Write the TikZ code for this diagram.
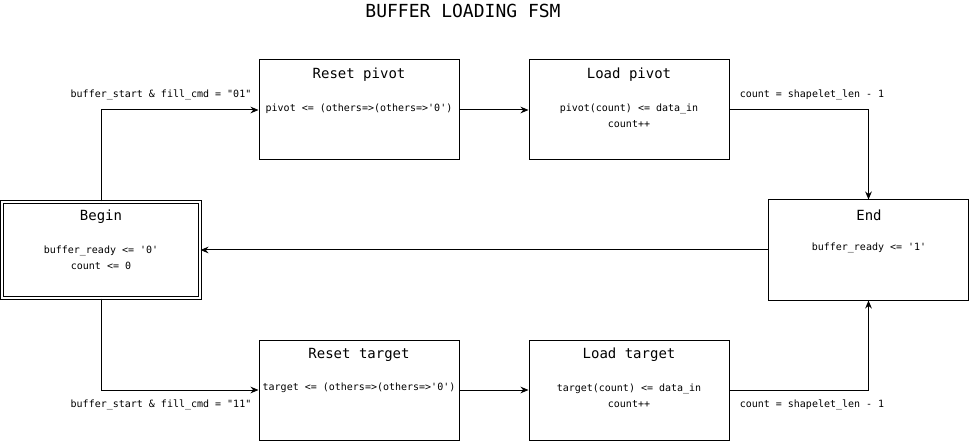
\documentclass[tikz,border=0pt]{standalone}
\usepackage{fontspec}
\setmonofont{DejaVu Sans Mono}
\usetikzlibrary{arrows.meta}

\begin{document}
\begin{tikzpicture}[->,>={Stealth[length=6pt,width=5pt]},x=0.75pt,y=-0.75pt,line width=0.75pt,
    statebox/.style={draw,rectangle,minimum width=150pt,minimum height=75pt,inner sep=0pt},
    statename/.style={font=\ttfamily\fontsize{10.5}{12}\selectfont},
    action/.style={font=\ttfamily\fontsize{7.5}{12}\selectfont,align=center},
    guard/.style={font=\ttfamily\fontsize{7.5}{12}\selectfont}]
                \useasboundingbox (0,0) rectangle (969,441);
                \node[font=\ttfamily\fontsize{13.5}{16}\selectfont] (title) at (463,11) {BUFFER LOADING FSM};

                % states
                \node[statebox, double, double distance=1.5pt, minimum width=148.5pt, minimum height=72pt] (begin) at (101,250) {};
                \node[statebox] (rp) at (359,110) {};
                \node[statebox] (lp) at (629,110) {};
                \node[statebox] (end) at (868.5,250) {};
                \node[statebox] (rt) at (359,390) {};
                \node[statebox] (lt) at (629,390) {};

                % state texts
                \node[statename] (begin-n) at (101,217) {Begin};
                \node[action] (begin-a) at (101,258) {buffer\_ready <= '0'\\count <= 0};
                \node[statename] (rp-n) at (359,75) {Reset pivot};
                \node[action] (rp-a) at (359,109) {pivot <= (others=>(others=>'0')};
                \node[statename] (lp-n) at (629,75) {Load pivot};
                \node[action] (lp-a) at (629,116) {pivot(count) <= data\_in\\count++};
                \node[statename] (end-n) at (869,215) {End};
                \node[action] (end-a) at (869,248) {buffer\_ready <= '1'};
                \node[statename] (rt-n) at (359,355) {Reset target};
                \node[action] (rt-a) at (359,388) {target <= (others=>(others=>'0')};
                \node[statename] (lt-n) at (629,355) {Load target};
                \node[action] (lt-a) at (629,396) {target(count) <= data\_in\\count++};

                % guards
                \node[guard] (g-01) at (161,95) {buffer\_start \& fill\_cmd = "01"};
                \node[guard] (g-11) at (161,405) {buffer\_start \& fill\_cmd = "11"};
                \node[guard] (g-lp) at (812,95) {count = shapelet\_len - 1};
                \node[guard] (g-lt) at (812,405) {count = shapelet\_len - 1};

                % transitions
                \draw (begin.north) |- (rp.west);
                \draw (rp) -- (lp);
                \draw (lp.east) -| (end.north);
                \draw (end.west) -- (begin.east);
                \draw (begin.south) |- (rt.west);
                \draw (rt) -- (lt);
                \draw (lt.east) -| (end.south);
            \end{tikzpicture}
\end{document}
